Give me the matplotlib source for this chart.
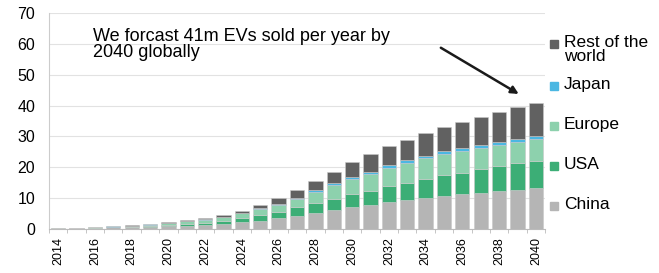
import numpy as np
import matplotlib
matplotlib.use('Agg')
import matplotlib.pyplot as plt
from matplotlib.patches import Rectangle

# ========== Data (million EVs sold per year) ==========
years = list(range(2014, 2041))
china = [0.1, 0.2, 0.35, 0.5, 0.6, 0.8, 0.9, 1.1, 1.4, 1.6, 2.2, 2.7, 3.5, 4.2,
         5.3, 6.3, 7.0, 7.9, 8.6, 9.3, 9.9, 10.8, 11.2, 11.8, 12.3, 12.8, 13.4]
usa = [0.05, 0.05, 0.1, 0.1, 0.15, 0.1, 0.4, 0.6, 0.6, 1.1, 1.3, 1.7, 2.0, 2.8,
       3.2, 3.5, 4.2, 4.5, 5.3, 5.7, 6.4, 6.6, 7.1, 7.5, 8.0, 8.5, 8.7]
europe = [0.1, 0.1, 0.1, 0.2, 0.3, 0.5, 0.7, 0.8, 1.0, 1.2, 1.6, 2.0, 2.3, 2.7,
          3.6, 4.4, 4.9, 5.5, 5.9, 6.5, 6.7, 6.9, 7.0, 7.0, 7.0, 6.9, 7.0]
japan = [0.02, 0.03, 0.05, 0.05, 0.05, 0.1, 0.1, 0.1, 0.1, 0.1, 0.2, 0.3, 0.4, 0.5,
         0.6, 0.6, 0.7, 0.7, 0.8, 0.8, 0.8, 0.9, 0.9, 1.0, 1.0, 1.0, 1.1]
rest = [0.03, 0.02, 0.0, 0.15, 0.1, 0.2, 0.2, 0.2, 0.5, 0.4, 0.6, 1.0, 1.7, 2.4,
        2.9, 3.7, 4.9, 5.6, 6.3, 6.7, 7.3, 7.8, 8.5, 8.9, 9.6, 10.2, 10.7]

series = [('China', china, '#b5b5b5'),
          ('USA', usa, '#3cae76'),
          ('Europe', europe, '#8dd1ad'),
          ('Japan', japan, '#4bb7e2'),
          ('Rest of the\nworld', rest, '#616161')]

plt.rcParams['font.family'] = ['Liberation Sans', 'DejaVu Sans']

fig = plt.figure(figsize=(6.59, 2.73), dpi=100)
ax = fig.add_axes([49/659, 44/273, 496/659, 216/273])

bottom = np.zeros(len(years))
for name, vals, col in series:
    ax.bar(years, vals, bottom=bottom, width=0.78, color=col,
           edgecolor='#c8c8c8', linewidth=0.4, zorder=3)
    bottom += np.array(vals)

ax.set_xlim(2013.5, 2040.5)
ax.set_ylim(0, 70)
ax.set_yticks(range(0, 71, 10))
ax.set_xticks(years[::2])
ax.set_xticklabels([str(y) for y in years[::2]], rotation=90, fontsize=9)
ax.set_xticks(np.arange(2013.5, 2041, 1), minor=True)
ax.tick_params(axis='x', which='major', length=0, pad=6)
ax.tick_params(axis='x', which='minor', length=3, color='#bbbbbb')
ax.tick_params(axis='y', length=0, labelsize=11.5, pad=10)
ax.grid(axis='y', color='#e2e2e2', linewidth=0.8, zorder=0)
for s in ['top', 'right']:
    ax.spines[s].set_visible(False)
ax.spines['left'].set_color('#cccccc')
ax.spines['bottom'].set_color('#bbbbbb')

ax.text(2015.9, 65.3, 'We forcast 41m EVs sold per year by\n2040 globally',
        fontsize=13, va='top', ha='left', linespacing=0.95)
ax.annotate('', xy=(2039.2, 43.3), xytext=(2034.7, 59.2),
            arrowprops=dict(arrowstyle='-|>', color='#1a1a1a', lw=1.8,
                            mutation_scale=11))

# legend drawn manually to match the spacing of the original
leg_items = [('Rest of the\nworld', '#616161', 44),
             ('Japan', '#4bb7e2', 86),
             ('Europe', '#8dd1ad', 126),
             ('USA', '#3cae76', 166),
             ('China', '#b5b5b5', 206)]
for label, col, ypx in leg_items:
    fig.patches.append(Rectangle((550/659, 1 - (ypx + 4)/273), 8/659, 8/273,
                                 transform=fig.transFigure, color=col))
    fig.text(564/659, 1 - (ypx - 9)/273, label, fontsize=12.5, va='top',
             ha='left', linespacing=0.95)

fig.savefig('out.png', dpi=100)
